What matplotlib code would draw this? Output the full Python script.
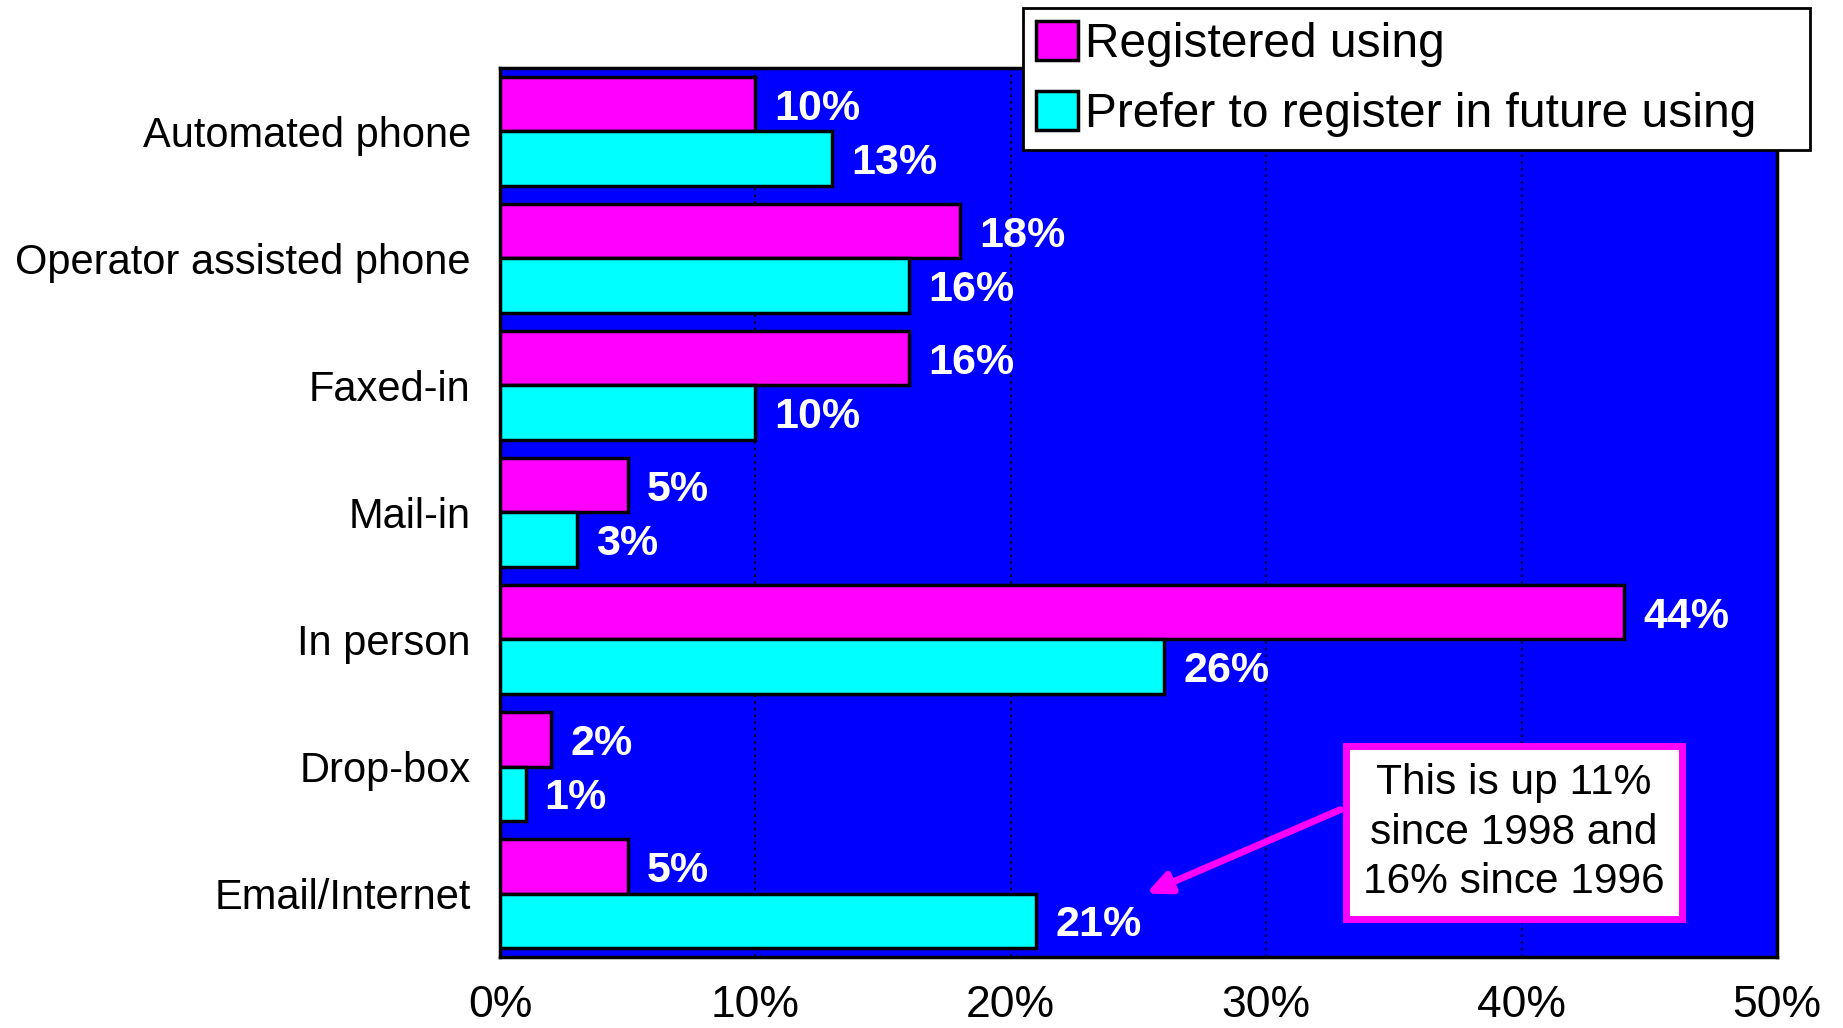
import matplotlib
matplotlib.use("Agg")
import matplotlib.pyplot as plt
import numpy as np

plt.rcParams['font.family'] = ['Liberation Sans', 'DejaVu Sans']

categories = ["Automated phone", "Operator assisted phone", "Faxed-in",
              "Mail-in", "In person", "Drop-box", "Email/Internet"]
registered = [10, 18, 16, 5, 44, 2, 5]
prefer = [13, 16, 10, 3, 26, 1, 21]
x_ticks = [0, 10, 20, 30, 40, 50]
x_tick_labels = ["0%", "10%", "20%", "30%", "40%", "50%"]
series_names = ["Registered using", "Prefer to register in future using"]
note_text = "This is up 11%\nsince 1998 and\n16% since 1996"

MAGENTA = "#FF00FF"
CYAN = "#00FFFF"
BLUE = "#0000FF"

fig = plt.figure(figsize=(18.43, 10.28), dpi=100)
ax = fig.add_axes([0.2713, 0.069, 0.6929, 0.865])
ax.set_facecolor(BLUE)

y = np.arange(len(categories))
h = 0.43
b1 = ax.barh(y - h / 2, registered, height=h, color=MAGENTA,
             edgecolor="black", linewidth=2.5, label=series_names[0], zorder=3)
b2 = ax.barh(y + h / 2, prefer, height=h, color=CYAN,
             edgecolor="black", linewidth=2.5, label=series_names[1], zorder=3)

for yy, v in zip(y - h / 2, registered):
    ax.text(v + 0.75, yy, f"{v}%", color="white", fontsize=31,
            fontweight="bold", va="center_baseline", ha="left", zorder=4)
for yy, v in zip(y + h / 2, prefer):
    ax.text(v + 0.75, yy, f"{v}%", color="white", fontsize=31,
            fontweight="bold", va="center_baseline", ha="left", zorder=4)

ax.set_xlim(0, 50)
ax.set_ylim(len(categories) - 0.5, -0.5)
ax.set_xticks(x_ticks)
ax.set_xticklabels(x_tick_labels, fontsize=32)
ax.set_yticks(y)
ax.set_yticklabels(categories, fontsize=30)
ax.tick_params(axis="both", length=0)
ax.tick_params(axis="x", pad=20)
ax.tick_params(axis="y", pad=21)
ax.grid(axis="x", color="black", linestyle=(0, (1.5, 2.5)), linewidth=1.2, zorder=1)
for s in ax.spines.values():
    s.set_linewidth(2.5)
    s.set_color("black")

# Callout box with arrow pointing at the Email/Internet preference bar
ax.annotate("", xy=(25.3, 6.0), xytext=(32.9, 5.34),
            arrowprops=dict(arrowstyle="-|>,head_length=1.4,head_width=0.65",
                            color=MAGENTA, lw=5, shrinkA=0, shrinkB=0),
            zorder=5)
ax.text(39.7, 5.52, note_text, fontsize=30.5, ha="center", va="center",
        linespacing=1.3, zorder=6,
        bbox=dict(boxstyle="square,pad=0.4", facecolor="white",
                  edgecolor=MAGENTA, linewidth=5))

leg = fig.legend(handles=[b1, b2], labels=series_names,
                 loc="upper left", bbox_to_anchor=(0.555, 0.992, 0.427, 0.0),
                 mode="expand",
                 fontsize=34.5, frameon=True, fancybox=False,
                 edgecolor="black", facecolor="white", framealpha=1,
                 handlelength=0.88, handleheight=0.88, handletextpad=0.15,
                 borderpad=0.27, labelspacing=0.5, borderaxespad=0)
leg.get_frame().set_linewidth(2)

fig.savefig("out.png", dpi=100, facecolor="white")
